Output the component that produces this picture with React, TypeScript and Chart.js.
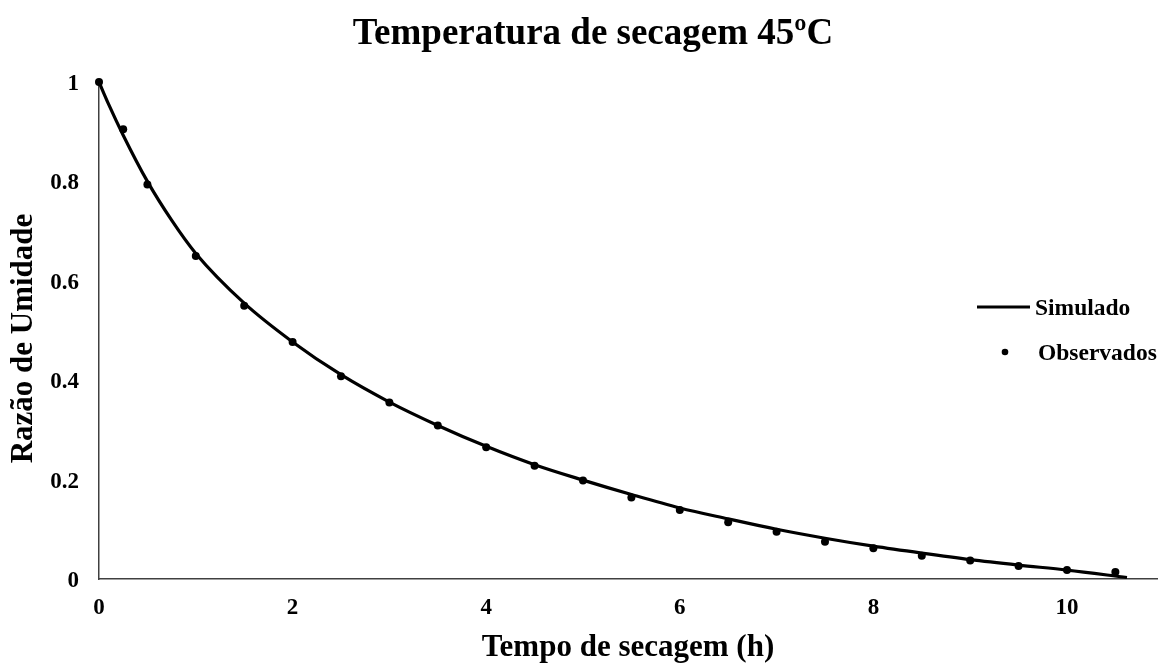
import React, { useEffect, useRef } from "react";
import { Chart, registerables } from "chart.js";

Chart.register(...registerables);

const titleText = "Temperatura de secagem 45ºC";
const xAxisTitle = "Tempo de secagem (h)";
const yAxisTitle = "Razão de Umidade";
const seriesLabels = ["Simulado", "Observados"];

const xTickValues = [0, 2, 4, 6, 8, 10];
const xTickLabels = ["0", "2", "4", "6", "8", "10"];
const yTickValues = [0, 0.2, 0.4, 0.6, 0.8, 1];
const yTickLabels = ["0", "0.2", "0.4", "0.6", "0.8", "1"];
const xMin = 0;
const xMax = 10.93;
const yMin = 0;
const yMax = 1;

// Observed points (Observados)
const obsX = [0, 0.25, 0.5, 1, 1.5, 2, 2.5, 3, 3.5, 4, 4.5, 5, 5.5, 6, 6.5, 7, 7.5, 8, 8.5, 9, 9.5, 10, 10.5];
const obsY = [1.0, 0.905, 0.794, 0.65, 0.55, 0.477, 0.408, 0.355, 0.309, 0.265, 0.228, 0.198, 0.164, 0.139, 0.114, 0.095, 0.075, 0.062, 0.047, 0.037, 0.026, 0.018, 0.014];

// Simulated curve (Simulado)
const simX = [0, 0.1, 0.25, 0.5, 0.75, 1, 1.5, 2, 2.5, 3, 3.5, 4, 4.5, 5, 5.5, 6, 6.5, 7, 7.5, 8, 8.5, 9, 9.5, 10, 10.62];
const simY = [1.0, 0.955, 0.893, 0.8, 0.722, 0.655, 0.555, 0.477, 0.411, 0.356, 0.309, 0.267, 0.23, 0.199, 0.17, 0.143, 0.121, 0.1, 0.082, 0.066, 0.052, 0.039, 0.028, 0.018, 0.003];

const FONT_FAMILY = "'Liberation Serif', 'Times New Roman', serif";

const overlayPlugin = {
  id: "overlayTexts",
  afterDraw(chart: any) {
    const { ctx, chartArea } = chart;
    const ds = chart.data.datasets;
    ctx.save();
    // y axis title
    ctx.save();
    ctx.font = `bold 31px ${FONT_FAMILY}`;
    ctx.fillStyle = "#000";
    ctx.textAlign = "center";
    ctx.textBaseline = "middle";
    ctx.translate(chartArea.left - 75, (chartArea.top + chartArea.bottom) / 2 + 8);
    ctx.rotate(-Math.PI / 2);
    ctx.fillText(yAxisTitle, 0, 0);
    ctx.restore();
    // legend
    ctx.font = `bold 23.5px ${FONT_FAMILY}`;
    ctx.fillStyle = "#000";
    ctx.textBaseline = "alphabetic";
    ctx.textAlign = "left";
    const baseX = chartArea.right - 180;
    ctx.strokeStyle = "#000";
    ctx.lineWidth = 3;
    ctx.beginPath();
    ctx.moveTo(baseX, 307);
    ctx.lineTo(baseX + 53, 307);
    ctx.stroke();
    ctx.fillText(ds[0].label, baseX + 58, 315);
    ctx.beginPath();
    ctx.arc(baseX + 28, 352, 3.3, 0, Math.PI * 2);
    ctx.fill();
    ctx.fillText(ds[1].label, baseX + 61, 360);
    ctx.restore();
  },
};

export default function App() {
  const canvasRef = useRef<HTMLCanvasElement | null>(null);

  useEffect(() => {
    if (!canvasRef.current) return;
    const chart = new Chart(canvasRef.current, {
      type: "scatter",
      data: {
        datasets: [
          {
            label: seriesLabels[0],
            data: simX.map((x, i) => ({ x, y: simY[i] })),
            showLine: true,
            borderColor: "#000",
            backgroundColor: "#000",
            borderWidth: 3.2,
            pointRadius: 0,
            pointHoverRadius: 0,
            cubicInterpolationMode: "monotone",
            clip: false,
          } as any,
          {
            label: seriesLabels[1],
            data: obsX.map((x, i) => ({ x, y: obsY[i] })),
            showLine: false,
            borderColor: "#000",
            backgroundColor: "#000",
            pointRadius: 4,
            pointBorderWidth: 0,
            clip: false,
          } as any,
        ],
      },
      options: {
        animation: false,
        responsive: false,
        events: [],
        layout: { padding: { left: 29, right: 11, top: 0, bottom: 0 } },
        plugins: {
          legend: { display: false },
          tooltip: { enabled: false },
          title: {
            display: true,
            text: titleText,
            color: "#000",
            font: { family: FONT_FAMILY, size: 37, weight: "bold" },
            padding: { top: 12, bottom: 25.6 },
          },
        },
        scales: {
          x: {
            type: "linear",
            min: xMin,
            max: xMax,
            afterBuildTicks: (scale: any) => {
              scale.ticks = xTickValues.map((v) => ({ value: v }));
            },
            afterFit: (scale: any) => {
              scale.height = 90;
            },
            grid: { display: false, drawTicks: false },
            border: { display: true, color: "#404040", width: 1.5 },
            ticks: {
              padding: 15,
              color: "#000",
              font: { family: FONT_FAMILY, size: 23, weight: "bold" },
              callback: (value: any) => {
                const i = xTickValues.indexOf(value);
                return i >= 0 ? xTickLabels[i] : "";
              },
            },
            title: {
              display: true,
              text: xAxisTitle,
              color: "#000",
              font: { family: FONT_FAMILY, size: 31, weight: "bold" },
              padding: { top: 0, bottom: 2 },
            },
          },
          y: {
            type: "linear",
            min: yMin,
            max: yMax,
            afterBuildTicks: (scale: any) => {
              scale.ticks = yTickValues.map((v) => ({ value: v }));
            },
            afterFit: (scale: any) => {
              scale.width = 70;
            },
            grid: { display: false, drawTicks: false },
            border: { display: true, color: "#404040", width: 1.5 },
            ticks: {
              padding: 20,
              labelOffset: 2,
              color: "#000",
              font: { family: FONT_FAMILY, size: 23, weight: "bold" },
              callback: (value: any) => {
                const i = yTickValues.indexOf(value);
                return i >= 0 ? yTickLabels[i] : "";
              },
            },
            title: { display: false },
          },
        },
      },
      plugins: [overlayPlugin],
    });
    return () => chart.destroy();
  }, []);

  return (
    <div style={{ position: "fixed", left: 0, top: 0, width: 1168, height: 669, background: "#fff" }}>
      <canvas ref={canvasRef} width={1168} height={669} style={{ display: "block" }} />
    </div>
  );
}
